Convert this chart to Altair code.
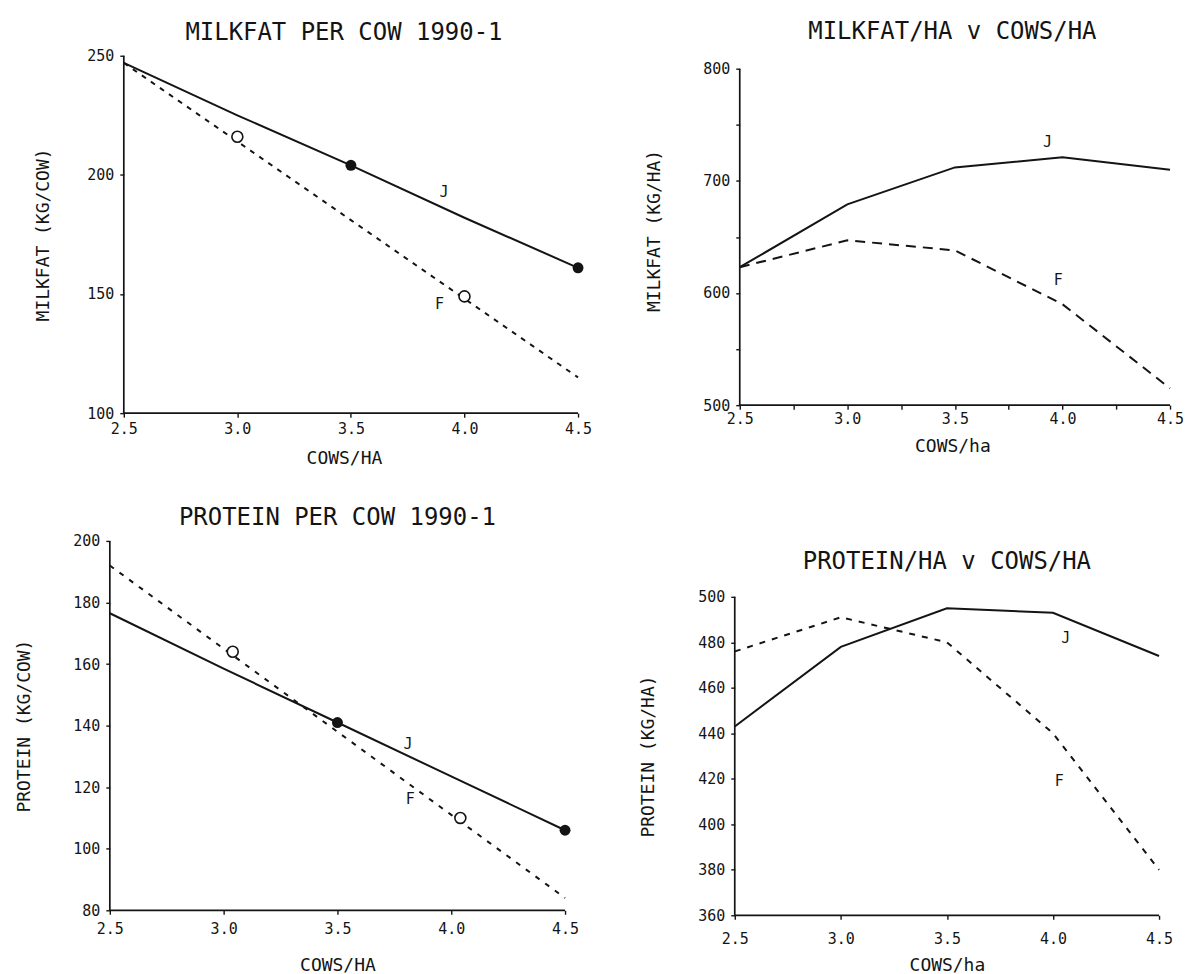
import altair as alt
import pandas as pd

# ---------------- data ----------------
cows = [2.5, 3.0, 3.5, 4.0, 4.5]

# Panel 1: milkfat per cow (kg/cow)
fat_cow_J = [247, 225, 204, 182, 161]
fat_cow_F = [247, 214, 181, 148, 115]
fat_cow_J_pts_x = [3.5, 4.5]
fat_cow_J_pts_y = [204, 161]
fat_cow_F_pts_x = [3.0, 4.0]
fat_cow_F_pts_y = [216, 149]
fat_cow_lab_x = [3.91, 3.89]
fat_cow_lab_y = [193, 146]

# Panel 2: milkfat per ha (kg/ha)
fat_ha_J = [623, 679, 712, 721, 710]
fat_ha_F = [623, 647, 638, 590, 515]
fat_ha_lab_x = [3.93, 3.98]
fat_ha_lab_y = [735, 612]

# Panel 3: protein per cow (kg/cow)
prot_cow_J = [176.5, 158.5, 141, 123.5, 106]
prot_cow_F = [192, 165, 138, 111, 84]
prot_cow_J_pts_x = [3.5, 4.5]
prot_cow_J_pts_y = [141, 106]
prot_cow_F_pts_x = [3.04, 4.04]
prot_cow_F_pts_y = [164, 110]
prot_cow_lab_x = [3.81, 3.82]
prot_cow_lab_y = [134, 116]

# Panel 4: protein per ha (kg/ha)
prot_ha_J = [443, 478, 495, 493, 474]
prot_ha_F = [476, 491, 480, 440, 380]
prot_ha_lab_x = [4.06, 4.03]
prot_ha_lab_y = [482, 419]

breeds = ["J", "F"]
x_ticks = [2.5, 3.0, 3.5, 4.0, 4.5]
x_ticks_minor = [2.5, 2.75, 3.0, 3.25, 3.5, 3.75, 4.0, 4.25, 4.5]

INK = "#141414"
FONT = "DejaVu Sans Mono"


def panel(title, title_offset, xtitle, ytitle, yrange, yvalues, ylabel_mod,
          xvalues, J, F, dash, width, height, ytitle_pad, xlab_pad, xtitle_pad,
          left_px=0, top_px=0, ptsJ=None, ptsF=None, lab=None):
    # left_px / top_px: empty margin (pixels) inside the view, left of / above the axes
    xmin, xmax = 2.5, 4.5
    ymin, ymax = yrange
    x_lo = xmin - left_px * (xmax - xmin) / (width - left_px)
    y_hi = ymax + top_px * (ymax - ymin) / (height - top_px)
    lines = pd.DataFrame({
        "x": cows + cows,
        "y": J + F,
        "s": ["J"] * len(cows) + ["F"] * len(cows),
    })
    xenc = alt.X(
        "x:Q",
        scale=alt.Scale(domain=[x_lo, xmax], nice=False, zero=False),
        axis=alt.Axis(
            values=xvalues, domain=False,
            labelExpr="(round(datum.value*100) % 50 == 0) ? format(datum.value, '.1f') : ''",
            title=xtitle,
            titlePadding=xtitle_pad,
            labelPadding=xlab_pad,
        ),
    )
    yenc = alt.Y(
        "y:Q",
        scale=alt.Scale(domain=[ymin, y_hi], nice=False, zero=False),
        axis=alt.Axis(
            values=yvalues, domain=False, offset=-left_px,
            labelExpr=f"(datum.value % {ylabel_mod} == 0) ? datum.label : ''",
            title=ytitle,
            titlePadding=ytitle_pad,
            labelPadding=6,
        ),
    )
    frame = pd.DataFrame({
        "x": [xmin, xmin], "x2": [xmax, xmin],
        "y": [ymin, ymin], "y2": [ymin, ymax],
    })
    axes_lines = alt.Chart(frame).mark_rule(color=INK, strokeWidth=1.7).encode(
        x=xenc, x2=alt.X2("x2:Q"), y=yenc, y2=alt.Y2("y2:Q"))
    base = alt.Chart(lines)
    lj = base.transform_filter("datum.s == 'J'").mark_line(
        color=INK, strokeWidth=2).encode(x=xenc, y=yenc)
    lf = base.transform_filter("datum.s == 'F'").mark_line(
        color=INK, strokeWidth=2, strokeDash=dash).encode(x=xenc, y=yenc)
    layers = [axes_lines, lj, lf]
    if ptsJ is not None:
        dj = pd.DataFrame({"x": ptsJ[0], "y": ptsJ[1]})
        layers.append(alt.Chart(dj).mark_point(
            shape="circle", filled=True, size=120, color=INK, opacity=1
        ).encode(x=xenc, y=yenc))
    if ptsF is not None:
        dfp = pd.DataFrame({"x": ptsF[0], "y": ptsF[1]})
        layers.append(alt.Chart(dfp).mark_point(
            shape="circle", filled=False, size=120, color=INK, strokeWidth=1.6,
            fill="white", fillOpacity=1, opacity=1
        ).encode(x=xenc, y=yenc))
    if lab is not None:
        dl = pd.DataFrame({"x": lab[0], "y": lab[1], "t": breeds})
        layers.append(alt.Chart(dl).mark_text(
            font=FONT, fontSize=15, color=INK
        ).encode(x=xenc, y=yenc, text="t:N"))
    return alt.layer(*layers).properties(
        width=width, height=height,
        title=alt.TitleParams(title, offset=title_offset, fontSize=24,
                              font=FONT, fontWeight="normal", color=INK,
                              anchor="middle"),
    )


p1 = panel("MILKFAT PER COW 1990-1", 4, "COWS/HA", "MILKFAT (KG/COW)",
           [100, 250], [100, 150, 200, 250], 50, x_ticks,
           fat_cow_J, fat_cow_F, [5, 6], 469, 358, 34, 4, 13,
           left_px=14,
           ptsJ=(fat_cow_J_pts_x, fat_cow_J_pts_y),
           ptsF=(fat_cow_F_pts_x, fat_cow_F_pts_y),
           lab=(fat_cow_lab_x, fat_cow_lab_y))

p2 = panel("MILKFAT/HA v COWS/HA", 12, "COWS/ha", "MILKFAT (KG/HA)",
           [500, 800], [500, 550, 600, 650, 700, 750, 800], 100, x_ticks_minor,
           fat_ha_J, fat_ha_F, [10, 7], 436, 350, 39, 2, 11,
           left_px=5, top_px=13,
           lab=(fat_ha_lab_x, fat_ha_lab_y))

p3 = panel("PROTEIN PER COW 1990-1", 4, "COWS/HA", "PROTEIN (KG/COW)",
           [80, 200], [80, 100, 120, 140, 160, 180, 200], 20, x_ticks,
           prot_cow_J, prot_cow_F, [5, 7], 456, 370, 39, 7, 20,
           ptsJ=(prot_cow_J_pts_x, prot_cow_J_pts_y),
           ptsF=(prot_cow_F_pts_x, prot_cow_F_pts_y),
           lab=(prot_cow_lab_x, prot_cow_lab_y))

p4 = panel("PROTEIN/HA v COWS/HA", 16, "COWS/ha", "PROTEIN (KG/HA)",
           [360, 500], [360, 380, 400, 420, 440, 460, 480, 500], 20, x_ticks,
           prot_ha_J, prot_ha_F, [6, 7], 425, 319, 40, 12, 10,
           lab=(prot_ha_lab_x, prot_ha_lab_y))

left = alt.vconcat(p1, p3, spacing=39)
right = alt.vconcat(p2, p4, spacing=95)

chart = alt.concat(left, right, columns=2, spacing=47).properties(
    padding={"left": 7, "top": 11, "right": 0, "bottom": 0},
    background="white",
).configure_view(stroke=None).configure_axis(
    grid=False,
    domainColor=INK, domainWidth=1.6,
    tickColor=INK, tickWidth=1.4, tickSize=4,
    labelColor=INK, titleColor=INK,
    labelFont=FONT, titleFont=FONT,
    labelFontSize=15, titleFontSize=18, titleFontWeight="normal",
    labelFlush=False, labelOverlap=False,
)

chart.save("out.html", embed_options={"renderer": "svg", "actions": False})
